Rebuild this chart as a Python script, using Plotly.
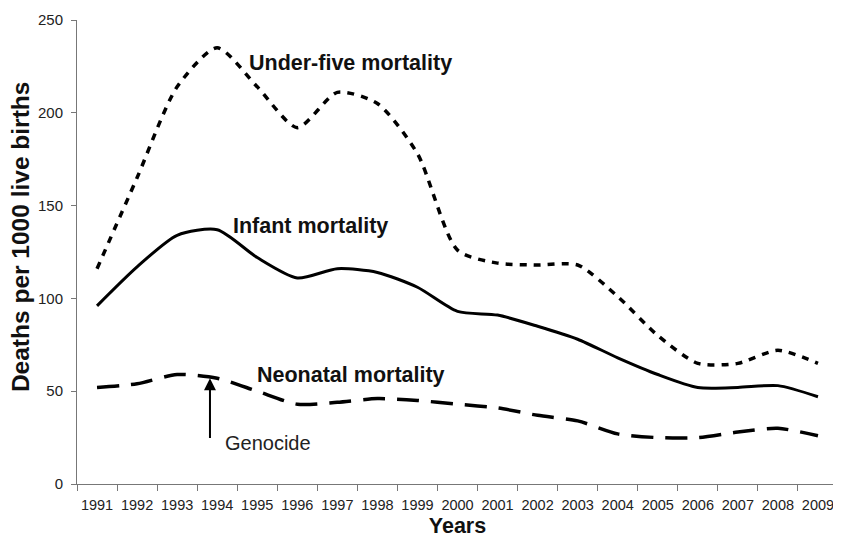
import plotly.graph_objects as go

years = [str(y) for y in range(1991, 2010)]
under_five = [116, 165, 214, 235, 214, 192, 211, 205, 178, 126, 119, 118, 118, 101, 80, 65, 65, 72, 65]
infant = [96, 117, 134, 137, 122, 111, 116, 114, 106, 93, 91, 85, 78, 68, 59, 52, 52, 53, 47]
neonatal = [52, 54, 59, 57, 50, 43, 44, 46, 45, 43, 41, 37, 34, 27, 25, 25, 28, 30, 26]
y_ticks = [0, 50, 100, 150, 200, 250]

FONT = "Liberation Sans, Arial, sans-serif"

fig = go.Figure()
fig.add_trace(go.Scatter(x=years, y=under_five, mode="lines", name="Under-five mortality",
                         line=dict(color="black", width=3.5, dash="7px,7px", shape="spline", smoothing=0.7)))
fig.add_trace(go.Scatter(x=years, y=infant, mode="lines", name="Infant mortality",
                         line=dict(color="black", width=3, shape="spline", smoothing=0.7)))
fig.add_trace(go.Scatter(x=years, y=neonatal, mode="lines", name="Neonatal mortality",
                         line=dict(color="black", width=3.5, dash="22px,12px", shape="spline", smoothing=0.7)))

ann_bold = dict(font=dict(family=FONT, size=21.5, color="#111"), showarrow=False,
                xanchor="left", yanchor="middle", xref="x", yref="y")
fig.add_annotation(text="<b>Under-five mortality</b>", x=3.74, y=227, **ann_bold)
fig.add_annotation(text="<b>Infant mortality</b>", x=3.35, y=139, **ann_bold)
fig.add_annotation(text="<b>Neonatal mortality</b>", x=3.95, y=59, **ann_bold)
fig.add_annotation(text="Genocide", x=3.14, y=22, showarrow=False, xanchor="left", yanchor="middle",
                   xref="x", yref="y", font=dict(family=FONT, size=20, color="#222"))
fig.add_annotation(x=2.82, y=57, ax=2.82, ay=24, xref="x", yref="y", axref="x", ayref="y",
                   text="", showarrow=True, arrowhead=2, arrowsize=1.2, arrowwidth=2, arrowcolor="black")
# y-axis title (placed as annotation to match its vertical position)
fig.add_annotation(text="<b>Deaths per 1000 live births</b>", textangle=-90, xref="paper", yref="paper",
                   x=-0.075, y=0.532, xanchor="center", yanchor="middle", showarrow=False,
                   font=dict(family=FONT, size=24.5, color="#111"))

# page body has an 8px default margin, so the figure is offset by (8, 8)
fig.update_layout(
    width=833, height=530,
    margin=dict(l=69, r=3, t=12, b=54),
    plot_bgcolor="white", paper_bgcolor="white",
    showlegend=False,
    font=dict(family=FONT, color="#222"),
)
fig.update_xaxes(type="category", range=[-0.5, 18.5], tickson="boundaries", tickangle=0,
                 automargin=False,
                 ticks="outside", ticklen=6, tickcolor="#777", showline=True, linecolor="#777",
                 linewidth=1, showgrid=False, zeroline=False,
                 tickfont=dict(size=14.5, color="#222"), ticklabelstandoff=8,
                 title=dict(text="<b>Years</b>", font=dict(size=21.5, color="#111"), standoff=7))
fig.update_yaxes(range=[0, 250], tickvals=y_ticks, ticks="outside", ticklen=5, tickcolor="#777",
                 automargin=False,
                 showline=True, linecolor="#777", linewidth=1, showgrid=False, zeroline=False,
                 tickfont=dict(size=15, color="#222"), ticklabelstandoff=5)

fig.write_html("out.html")
